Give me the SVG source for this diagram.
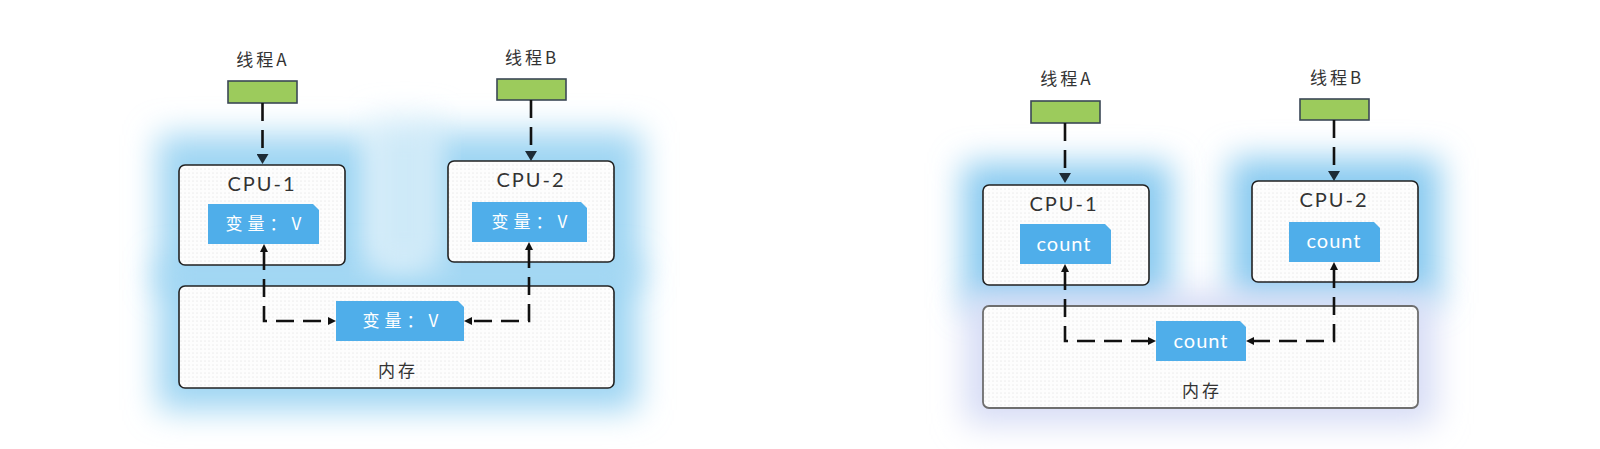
<svg xmlns="http://www.w3.org/2000/svg" width="1600" height="449" viewBox="0 0 1600 449">
<defs>
<style>
.lbl{font-family:"Noto Sans CJK SC","Noto Sans",sans-serif;font-size:17px;fill:#333;text-anchor:middle;letter-spacing:3px}
.cpu{font-family:"Lato","Liberation Sans",sans-serif;font-size:20px;fill:#333;text-anchor:middle;letter-spacing:2px}
.val{font-family:"Noto Sans CJK SC","Lato",sans-serif;font-size:17px;fill:#fff;text-anchor:middle;letter-spacing:5px}
.cnt{font-family:"Lato","Liberation Sans",sans-serif;font-size:20px;fill:#fff;text-anchor:middle;letter-spacing:1px}
.thread{fill:#9ccb5c;stroke:#3b4856;stroke-width:1.6}
.box{fill:url(#dots);stroke:#222;stroke-width:1.6}
.mem2{fill:url(#dots);stroke:#6e6e6e;stroke-width:1.8}
.blue{fill:#4faeea}
.dash{fill:none;stroke:#111;stroke-width:2.6;stroke-dasharray:18 9}
.glow{filter:url(#blur)}
</style>
<pattern id="dots" width="4" height="4" patternUnits="userSpaceOnUse">
<rect width="4" height="4" fill="#fdfdfd"/>
<circle cx="1" cy="1" r="0.5" fill="#d6d6d6"/>
</pattern>
<filter id="blur" x="-30%" y="-30%" width="160%" height="160%">
<feGaussianBlur stdDeviation="16"/>
</filter>
<marker id="bigArrow" viewBox="0 0 10 12" refX="0" refY="6" markerWidth="10" markerHeight="12" markerUnits="userSpaceOnUse" orient="auto">
<path d="M0,0 L10,6 L0,12 z" fill="#1d2b36"/>
</marker>
<marker id="arrow" viewBox="0 0 8 8" refX="0" refY="4" markerWidth="8" markerHeight="8" markerUnits="userSpaceOnUse" orient="auto-start-reverse">
<path d="M0,0 L8,4 L0,8 z" fill="#111"/>
</marker>
</defs>
<rect width="1600" height="449" fill="#ffffff"/>

<g id="glows">
<rect class="glow" x="158" y="135" width="215" height="155" fill="#9fd5f3"/>
<rect class="glow" x="426" y="132" width="215" height="155" fill="#9fd5f3"/>
<rect class="glow" x="158" y="262" width="480" height="148" fill="#9fd5f3"/>
<rect class="glow" x="370" y="120" width="70" height="150" fill="#cde9f8"/>
<rect class="glow" x="963" y="163" width="208" height="145" fill="#8acbf0"/>
<rect class="glow" x="1230" y="158" width="210" height="145" fill="#8acbf0"/>
<rect class="glow" x="965" y="292" width="470" height="132" fill="#d6dcf5"/>
</g>

<g id="left-threadA">
<text class="lbl" x="263" y="66">线程A</text>
<rect class="thread" x="228" y="81" width="69" height="22"/>
</g>
<g id="left-threadB">
<text class="lbl" x="532" y="64">线程B</text>
<rect class="thread" x="497" y="79" width="69" height="21"/>
</g>
<g id="left-cpu1">
<rect class="box" x="179" y="165" width="166" height="100" rx="6"/>
<text class="cpu" x="262" y="191">CPU-1</text>
<path class="blue" d="M208,204 H313 L319,210 V244 H208 z"/>
<text class="val" x="266" y="230">变量：V</text>
</g>
<g id="left-cpu2">
<rect class="box" x="448" y="161" width="166" height="101" rx="6"/>
<text class="cpu" x="531" y="187">CPU-2</text>
<path class="blue" d="M472,202 H581 L587,208 V242 H472 z"/>
<text class="val" x="532" y="228">变量：V</text>
</g>
<g id="left-memory">
<rect class="box" x="179" y="286" width="435" height="102" rx="6"/>
<path class="blue" d="M336,301 H458 L464,307 V341 H336 z"/>
<text class="val" x="403" y="327">变量：V</text>
<text class="lbl" x="398" y="377">内存</text>
</g>

<g id="right-threadA">
<text class="lbl" x="1067" y="85">线程A</text>
<rect class="thread" x="1031" y="101" width="69" height="22"/>
</g>
<g id="right-threadB">
<text class="lbl" x="1337" y="84">线程B</text>
<rect class="thread" x="1300" y="99" width="69" height="21"/>
</g>
<g id="right-cpu1">
<rect class="box" x="983" y="185" width="166" height="100" rx="6"/>
<text class="cpu" x="1064" y="211">CPU-1</text>
<path class="blue" d="M1020,224 H1105 L1111,230 V264 H1020 z"/>
<text class="cnt" x="1064" y="251">count</text>
</g>
<g id="right-cpu2">
<rect class="box" x="1252" y="181" width="166" height="101" rx="6"/>
<text class="cpu" x="1334" y="207">CPU-2</text>
<path class="blue" d="M1289,222 H1374 L1380,228 V262 H1289 z"/>
<text class="cnt" x="1334" y="248">count</text>
</g>
<g id="right-memory">
<rect class="mem2" x="983" y="306" width="435" height="102" rx="6"/>
<path class="blue" d="M1156,321 H1240 L1246,327 V361 H1156 z"/>
<text class="cnt" x="1201" y="348">count</text>
<text class="lbl" x="1202" y="397">内存</text>
</g>

<g id="connectors">
<path class="dash" d="M262.5,103 V154" marker-end="url(#bigArrow)"/>
<path class="dash" d="M531,100 V151" marker-end="url(#bigArrow)"/>
<path class="dash" d="M264,252 V321 H328" marker-start="url(#arrow)" marker-end="url(#arrow)"/>
<path class="dash" d="M529,250 V321 H472" marker-start="url(#arrow)" marker-end="url(#arrow)"/>
<path class="dash" d="M1065,123 V173" marker-end="url(#bigArrow)"/>
<path class="dash" d="M1334,120 V171" marker-end="url(#bigArrow)"/>
<path class="dash" d="M1065,272 V341 H1148" marker-start="url(#arrow)" marker-end="url(#arrow)"/>
<path class="dash" d="M1334,270 V341 H1254" marker-start="url(#arrow)" marker-end="url(#arrow)"/>
</g>
</svg>
